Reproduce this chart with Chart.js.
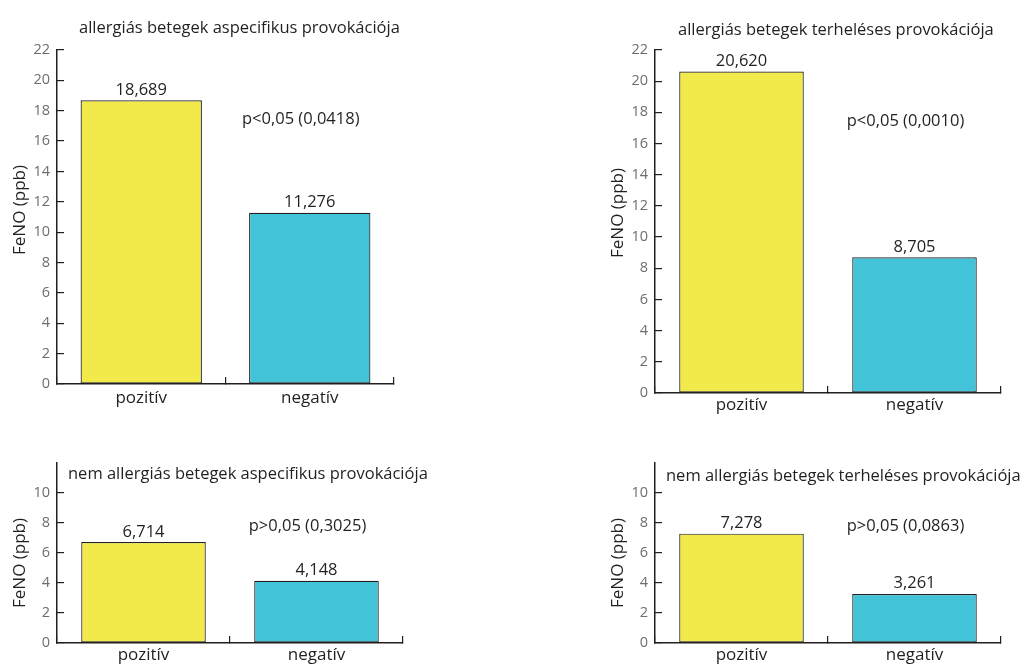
<!DOCTYPE html>
<html>
<head>
<meta charset="utf-8">
<script src="https://cdn.jsdelivr.net/npm/chart.js@4/dist/chart.umd.min.js"></script>
<style>
  html, body { margin: 0; padding: 0; background: #ffffff; width: 1032px; height: 667px; overflow: hidden; }
  canvas { position: absolute; }
</style>
</head>
<body>
<canvas id="c1" width="410" height="420" style="left:0px;top:0px"></canvas>
<canvas id="c2" width="442" height="420" style="left:590px;top:0px"></canvas>
<canvas id="c3" width="480" height="227" style="left:0px;top:440px"></canvas>
<canvas id="c4" width="442" height="227" style="left:590px;top:440px"></canvas>
<script>
// Group means of FeNO (ppb) by provocation outcome
const categories = ['pozitív', 'negatív'];
const allergicAspecific = [18.689, 11.276];
const allergicLoad = [20.620, 8.705];
const nonAllergicAspecific = [6.714, 4.148];
const nonAllergicLoad = [7.278, 3.261];

const panelTitles = [
  'allergiás betegek aspecifikus provokációja',
  'allergiás betegek terheléses provokációja',
  'nem allergiás betegek aspecifikus provokációja',
  'nem allergiás betegek terheléses provokációja'
];
const pLabels = ['p<0,05 (0,0418)', 'p<0,05 (0,0010)', 'p>0,05 (0,3025)', 'p>0,05 (0,0863)'];
const yAxisTitle = 'FeNO (ppb)';

const upperTicks = [0, 2, 4, 6, 8, 10, 12, 14, 16, 18, 20, 22];
const lowerTicks = [0, 2, 4, 6, 8, 10];
const upperMax = 22;
const lowerMax = 12;

const barColors = ['#f2ea4b', '#43c3d8'];
const INK = '#231f20';
const FONT = '"Open Sans", "Noto Sans", sans-serif';

const fmt = v => v.toFixed(3).replace('.', ',');

// Draws value labels, p-value note, panel title and y-axis title
const annotate = {
  id: 'annotate',
  afterDatasetsDraw(chart, args, o) {
    const ctx = chart.ctx;
    const xs = chart.scales.x, ys = chart.scales.y;
    const ds = chart.data.datasets[0];
    ctx.save();
    ctx.fillStyle = INK;
    ctx.font = '16.5px ' + FONT;
    ctx.textAlign = 'center';
    ctx.textBaseline = 'bottom';
    chart.getDatasetMeta(0).data.forEach((bar, i) => {
      ctx.fillText(fmt(ds.data[i]), bar.x, bar.y - 2);
    });
    ctx.textBaseline = 'middle';
    ctx.fillText(o.p, xs.getPixelForValue(1) - 9, ys.getPixelForValue(o.pAt));
    ctx.textAlign = 'left';
    ctx.font = '16.5px ' + FONT;
    ctx.fillText(o.title, chart.chartArea.left + o.titleDx, o.titleY);
    ctx.translate(o.yTitleX, o.yTitleY);
    ctx.rotate(-Math.PI / 2);
    ctx.textAlign = 'center';
    ctx.font = '17px ' + FONT;
    ctx.fillText(yAxisTitle, 0, 0);
    ctx.restore();
  }
};

function makePanel(id, values, ticks, max, lay, note) {
  return new Chart(document.getElementById(id), {
    type: 'bar',
    data: {
      labels: categories,
      datasets: [{
        data: values,
        backgroundColor: barColors,
        borderColor: INK,
        borderWidth: 1.2,
        borderSkipped: false,
        categoryPercentage: 1,
        barPercentage: 0.72
      }]
    },
    options: {
      responsive: false,
      animation: false,
      devicePixelRatio: 1,
      layout: { padding: { top: lay.top, right: lay.right, left: 0, bottom: 0 } },
      plugins: {
        legend: { display: false },
        tooltip: { enabled: false },
        title: { display: false },
        annotate: note
      },
      scales: {
        x: {
          offset: true,
          grid: { offset: true, drawOnChartArea: false, color: INK, lineWidth: 1.2, tickLength: -7 },
          border: { color: INK, width: 1.5 },
          ticks: { color: INK, font: { family: FONT, size: 17 }, padding: lay.xPad },
          afterFit: s => { s.height = lay.xHeight; }
        },
        y: {
          min: 0,
          max: max,
          afterBuildTicks: s => { s.ticks = ticks.map(v => ({ value: v })); },
          grid: { drawOnChartArea: false, color: INK, lineWidth: 1.2, tickLength: -7 },
          border: { color: INK, width: 1.5 },
          ticks: { color: '#6d6e71', font: { family: FONT, size: 14.5 }, padding: 14 },
          afterFit: s => { s.width = lay.yWidth; }
        }
      }
    },
    plugins: [annotate]
  });
}

makePanel('c1', allergicAspecific, upperTicks, upperMax,
  { top: 50, right: 16, xHeight: 36, yWidth: 57, xPad: 11 },
  { p: pLabels[0], pAt: 17.45, title: panelTitles[0], titleDx: 22, titleY: 28, yTitleX: 20, yTitleY: 210 });
makePanel('c2', allergicLoad, upperTicks, upperMax,
  { top: 50, right: 31, xHeight: 27, yWidth: 65, xPad: 9 },
  { p: pLabels[1], pAt: 17.4, title: panelTitles[1], titleDx: 23, titleY: 30, yTitleX: 28, yTitleY: 213 });
makePanel('c3', nonAllergicAspecific, lowerTicks, lowerMax,
  { top: 17, right: 77, xHeight: 24, yWidth: 57, xPad: 9 },
  { p: pLabels[2], pAt: 7.8, title: panelTitles[2], titleDx: 11, titleY: 34, yTitleX: 20, yTitleY: 123 });
makePanel('c4', nonAllergicLoad, lowerTicks, lowerMax,
  { top: 17, right: 31, xHeight: 24, yWidth: 65, xPad: 9 },
  { p: pLabels[3], pAt: 7.74, title: panelTitles[3], titleDx: 11, titleY: 36, yTitleX: 28, yTitleY: 123 });
</script>
</body>
</html>
